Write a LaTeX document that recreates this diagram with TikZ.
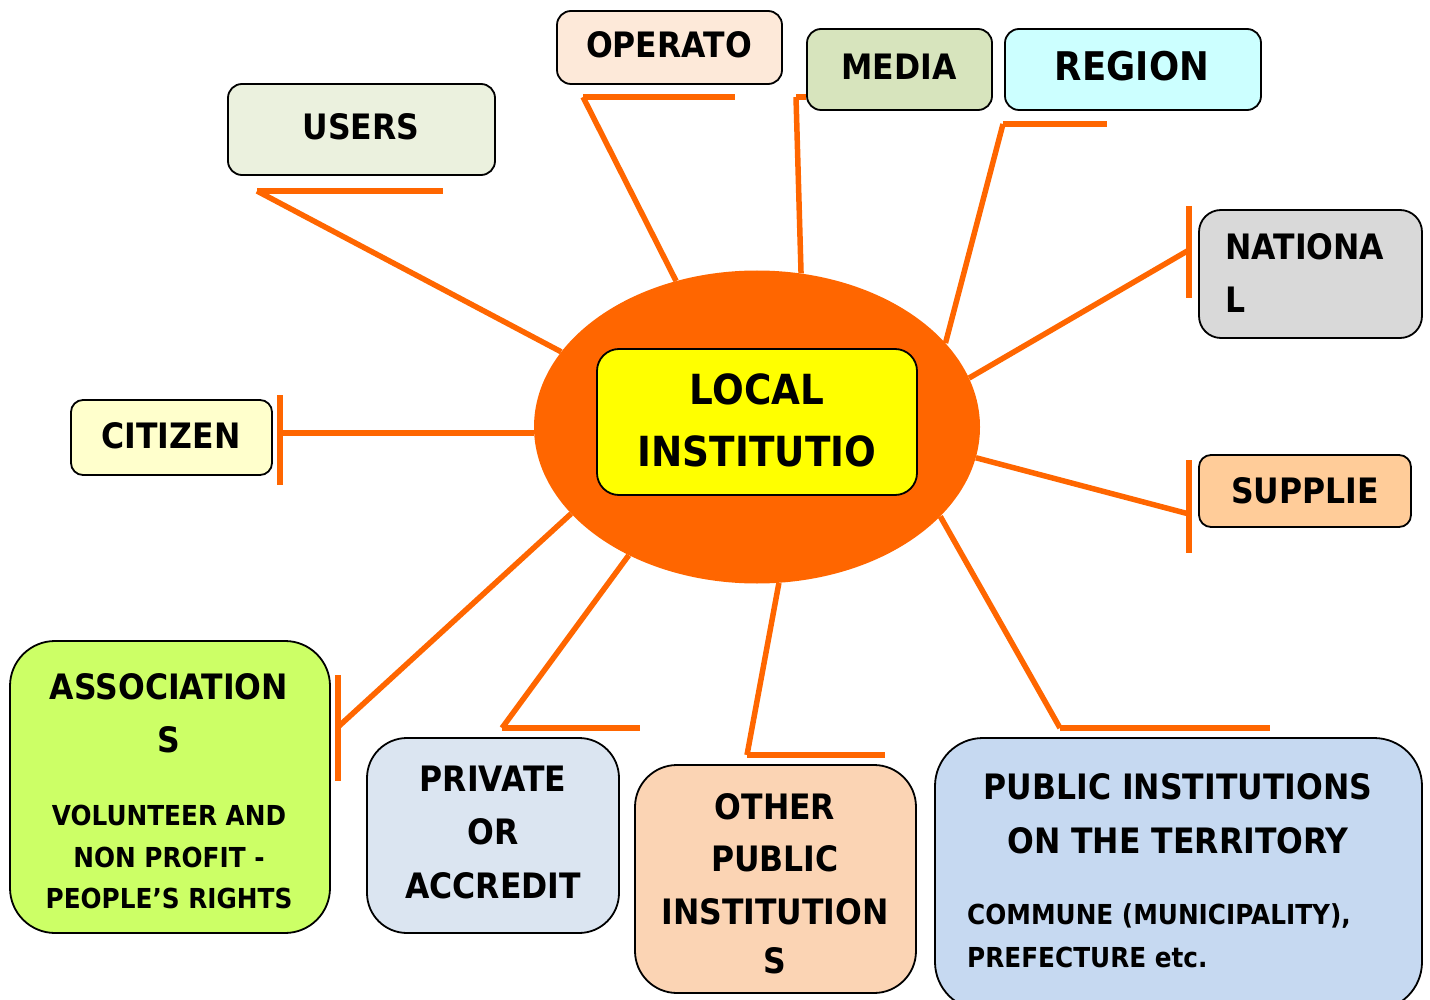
\documentclass[tikz,border=0pt]{standalone}
\usepackage{fontspec}
\setmainfont{DejaVu Sans}[FakeStretch=0.9]
\usetikzlibrary{shapes.geometric,backgrounds}
\definecolor{orng}{HTML}{FF6600}
\definecolor{cUsers}{HTML}{EBF1DE}
\definecolor{cOper}{HTML}{FDE9D9}
\definecolor{cMedia}{HTML}{D7E4BD}
\definecolor{cRegion}{HTML}{CCFFFF}
\definecolor{cNat}{HTML}{D9D9D9}
\definecolor{cSupp}{HTML}{FFCC99}
\definecolor{cCit}{HTML}{FFFFCC}
\definecolor{cLocal}{HTML}{FFFF00}
\definecolor{cAssoc}{HTML}{CCFF66}
\definecolor{cPriv}{HTML}{DBE5F1}
\definecolor{cOther}{HTML}{FBD4B4}
\definecolor{cPub}{HTML}{C6D9F1}
\begin{document}
\begin{tikzpicture}[x=1pt,y=-1pt,
  box/.style={draw=black, line width=1.8pt, rounded corners=#1, inner sep=0pt},
  txt/.style={font=\bfseries\fontsize{35}{42}\selectfont, inner sep=0pt, anchor=base},
  txtl/.style={txt, anchor=base west},
  big/.style={font=\bfseries\fontsize{41.5}{50}\selectfont},
  reg/.style={font=\bfseries\fontsize{39.5}{48}\selectfont},
  small/.style={font=\bfseries\fontsize{27.5}{33}\selectfont},
  conn/.style={draw=orng, line width=5.5pt}]
\useasboundingbox (0,0) rectangle (1430,1000);

% central ellipse
\node[ellipse, fill=orng, minimum width=446pt, minimum height=313pt, inner sep=0pt] (ell) at (757,427) {};

% boxes
\node[box=14pt, fill=cUsers, minimum width=267pt, minimum height=91pt] (users) at (361.5,129.5) {};
\node[box=14pt, fill=cOper, minimum width=225pt, minimum height=73pt] (oper) at (669.5,47.5) {};
\node[box=14pt, fill=cMedia, minimum width=185pt, minimum height=81pt] (media) at (899.5,69.5) {};
\node[box=14pt, fill=cRegion, minimum width=256pt, minimum height=81pt] (region) at (1133,69.5) {};
\node[box=22pt, fill=cNat, minimum width=223pt, minimum height=128pt] (nat) at (1310.5,274) {};
\node[box=12pt, fill=cSupp, minimum width=212pt, minimum height=72pt] (supp) at (1305,491) {};
\node[box=12pt, fill=cCit, minimum width=201pt, minimum height=75pt] (cit) at (171.5,437.5) {};
\node[box=22pt, fill=cLocal, minimum width=320pt, minimum height=146pt] (local) at (757,422) {};
\node[box=45pt, fill=cAssoc, minimum width=320pt, minimum height=292pt] (assoc) at (170,787) {};
\node[box=40pt, fill=cPriv, minimum width=252pt, minimum height=195pt] (priv) at (493,835.5) {};
\node[box=42pt, fill=cOther, minimum width=281pt, minimum height=228pt] (other) at (775.5,879) {};
\node[box=48pt, fill=cPub, minimum width=487pt, minimum height=272pt] (pub) at (1178.5,874) {};

% texts
\node[txt] (tUsers) at (361,140) {USERS};
\node[txt] (tOper) at (669,58) {OPERATO};
\node[txt] (tMedia) at (899,80) {MEDIA};
\node[txt, reg] (tRegion) at (1132,81) {REGION};
\node[txtl] (tNat1) at (1225,260) {NATIONA};
\node[txtl] (tNat2) at (1225,313) {L};
\node[txt] (tSupp) at (1305,503) {SUPPLIE};
\node[txt] (tCit) at (171,448) {CITIZEN};
\node[txt, big] (tLoc1) at (757,404) {LOCAL};
\node[txt, big] (tLoc2) at (757,466) {INSTITUTIO};
\node[txt] (tAs1) at (169,699) {ASSOCIATION};
\node[txt] (tAs2) at (169,752) {S};
\node[txt, small] (tAs3) at (169,825) {VOLUNTEER AND};
\node[txt, small] (tAs4) at (169,867) {NON PROFIT -};
\node[txt, small] (tAs5) at (169,908) {PEOPLE’S RIGHTS};
\node[txt] (tPr1) at (493,791) {PRIVATE};
\node[txt] (tPr2) at (493,844) {OR};
\node[txt] (tPr3) at (493,898) {ACCREDIT};
\node[txt] (tOt1) at (775,819) {OTHER};
\node[txt] (tOt2) at (775,871) {PUBLIC};
\node[txt] (tOt3) at (775,924) {INSTITUTION};
\node[txt] (tOt4) at (775,973) {S};
\node[txt] (tPu1) at (1178,799) {PUBLIC INSTITUTIONS};
\node[txt] (tPu2) at (1178,853) {ON THE TERRITORY};
\node[txtl, small] (tPu3) at (967,924) {COMMUNE (MUNICIPALITY),};
\node[txtl, small] (tPu4) at (967,967) {PREFECTURE etc.};

% connectors
\coordinate (uA) at (257,191); \coordinate (uB) at (443,191);
\coordinate (oA) at (583,97); \coordinate (oB) at (735,97);
\coordinate (mA) at (796,97);
\coordinate (rA) at (1003,124); \coordinate (rB) at (1107,124);
\coordinate (nA) at (1189,250); \coordinate (nT) at (1189,206); \coordinate (nB) at (1189,298);
\coordinate (sA) at (1189,514); \coordinate (sT) at (1189,460); \coordinate (sB) at (1189,553);
\coordinate (cA) at (280,433); \coordinate (cT) at (280,395); \coordinate (cB) at (280,485);
\coordinate (aA) at (338,727); \coordinate (aT) at (338,675); \coordinate (aB) at (338,781);
\coordinate (pA) at (502,728); \coordinate (pB) at (640,728);
\coordinate (tA) at (747,755); \coordinate (tB) at (885,755);
\coordinate (qA) at (1060,728); \coordinate (qB) at (1270,728);
\begin{scope}[on background layer]
\draw[conn] (uA) -- (uB); \draw[conn] (uA) -- (ell.159);
\draw[conn] (oA) -- (oB); \draw[conn] (oA) -- (ell.119.3);
\draw[conn] (mA) -- (media.west |- mA); \draw[conn] (mA) -- (ell.74.5);
\draw[conn] (rA) -- (rB); \draw[conn] (rA) -- (ell.24.4);
\draw[conn] (nT) -- (nB); \draw[conn] (nA) -- (ell.13);
\draw[conn] (sT) -- (sB); \draw[conn] (sA) -- (ell.-8.7);
\draw[conn] (cT) -- (cB); \draw[conn] (cA) -- (cA -| ell.west);
\draw[conn] (aT) -- (aB); \draw[conn] (aA) -- (ell.205.2);
\draw[conn] (pA) -- (pB); \draw[conn] (pA) -- (ell.225.4);
\draw[conn] (tA) -- (tB); \draw[conn] (tA) -- (ell.278.4);
\draw[conn] (qA) -- (qB); \draw[conn] (qA) -- (ell.334.9);
\end{scope}
\end{tikzpicture}
\end{document}
